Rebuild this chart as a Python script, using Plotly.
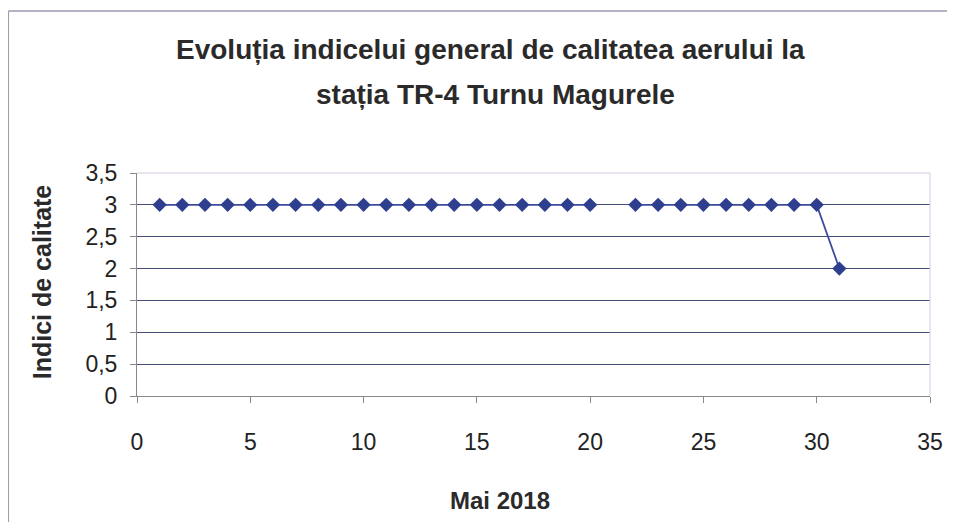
import plotly.graph_objects as go

days = list(range(1, 32))
index_values = [3]*20 + [None] + [3]*9 + [2]

x_ticks = [0, 5, 10, 15, 20, 25, 30, 35]
y_ticks = [0, 0.5, 1, 1.5, 2, 2.5, 3, 3.5]

title_line1 = "Evoluția indicelui general de calitatea aerului la"
title_line2 = "stația TR-4 Turnu Magurele"
x_title = "Mai 2018"
y_title = "Indici de calitate"

# page has an 8px body margin
OFF = 8
W, H = 955 - OFF, 522 - OFF
L, R, T, B = 137 - OFF, 23, 173 - OFF, 126
pw, ph = W - L - R, H - T - B


def px(x):
    return (x - OFF - L) / pw


def py(y):
    return 1 - (y - OFF - T) / ph


font = "Liberation Sans, Arial, sans-serif"
bold_dark = dict(family=font, color="#2a2a2a", weight="bold")

fig = go.Figure()
fig.add_trace(go.Scatter(
    x=days, y=index_values, mode="lines+markers",
    line=dict(color="#3b4c9e", width=1.8),
    marker=dict(symbol="diamond", size=11, color="#2f3f8f"),
    connectgaps=False, showlegend=False,
))

fig.update_layout(
    width=W, height=H,
    margin=dict(l=L, r=R, t=T, b=B),
    paper_bgcolor="white", plot_bgcolor="white",
    separators=", ",
    font=dict(family=font, color="#222222"),
    xaxis=dict(range=[0, 35], tickvals=x_ticks, showgrid=False, zeroline=False,
               showline=True, linecolor="#888888", linewidth=1,
               ticks="outside", ticklen=6, tickcolor="#888888",
               tickfont=dict(size=23, family=font, color="#222222"),
               ticklabelstandoff=19),
    yaxis=dict(range=[0, 3.5], tickvals=y_ticks, showgrid=True,
               gridcolor="#474c78", gridwidth=1.2, zeroline=False,
               showline=True, linecolor="#888888", linewidth=1,
               ticks="outside", ticklen=6, tickcolor="#888888",
               tickfont=dict(size=23, family=font, color="#222222"),
               ticklabelstandoff=8),
    annotations=[
        dict(text=title_line1, x=px(491), y=py(50), xref="paper", yref="paper",
             showarrow=False, xanchor="center", yanchor="middle",
             font=dict(size=28, **bold_dark)),
        dict(text=title_line2, x=px(496), y=py(95), xref="paper", yref="paper",
             showarrow=False, xanchor="center", yanchor="middle",
             font=dict(size=28, **bold_dark)),
        dict(text=x_title, x=px(501), y=py(500), xref="paper", yref="paper",
             showarrow=False, xanchor="center", yanchor="middle",
             font=dict(size=24, **bold_dark)),
        dict(text=y_title, x=px(42), y=py(282), xref="paper", yref="paper",
             showarrow=False, xanchor="center", yanchor="middle", textangle=-90,
             font=dict(size=25, **bold_dark)),
    ],
    shapes=[
        dict(type="line", xref="paper", yref="paper", x0=px(8), x1=px(970),
             y0=py(11), y1=py(11), line=dict(color="#9a9ab0", width=1.5)),
        dict(type="line", xref="paper", yref="paper", x0=px(8), x1=px(8),
             y0=py(11), y1=py(540), line=dict(color="#a0a0a0", width=1.5)),
        dict(type="line", xref="paper", yref="paper", x0=0, x1=1,
             y0=1, y1=1, line=dict(color="#d8c8e0", width=1)),
        dict(type="line", xref="paper", yref="paper", x0=1, x1=1,
             y0=0, y1=1, line=dict(color="#d8c8e0", width=1)),
    ],
)

fig.write_html("out.html")
